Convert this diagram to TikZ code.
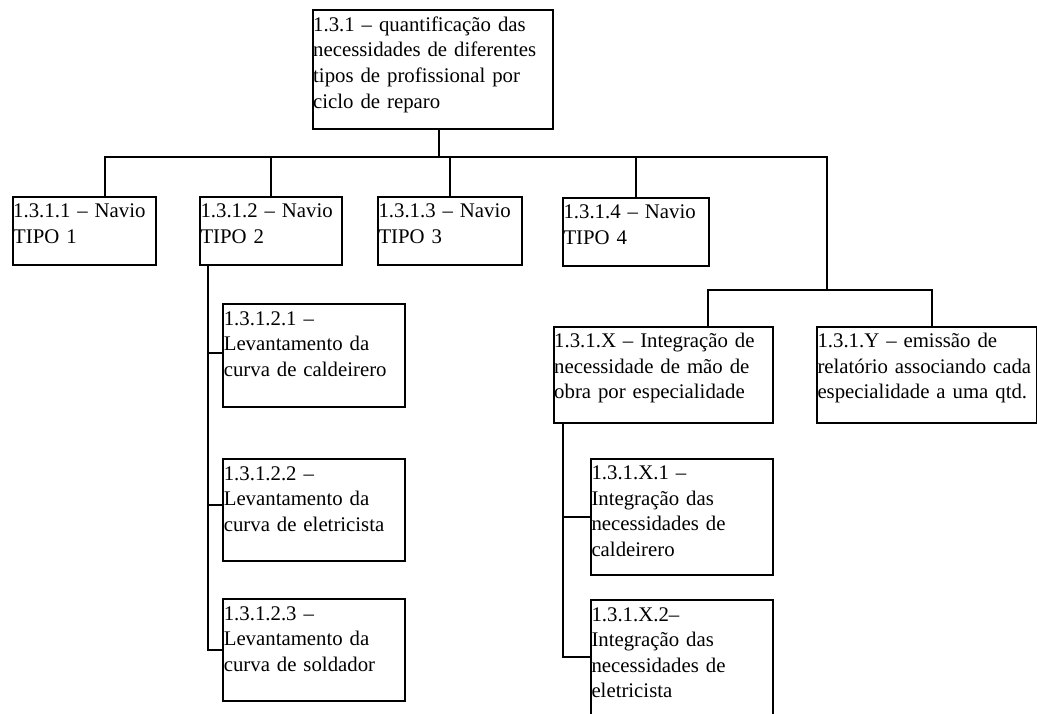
\documentclass[tikz,border=0pt]{standalone}
\usepackage{fontspec}
\setmainfont{Liberation Serif}
\usepackage{tikz}

\tikzset{
  caixa/.style={draw, line width=2pt, anchor=north west, inner xsep=0.5pt, inner ysep=0pt, align=left, text height=21pt, font=\fontsize{20.8}{25.6}\selectfont},
  liga/.style={line width=2pt}
}

\begin{document}
\begin{tikzpicture}[x=1pt,y=-1pt]
\useasboundingbox (0,0) rectangle (1037,713);
\clip (0,0) rectangle (1037,713);
\node[caixa,text width=239.3pt,text depth=97.4pt] (a) at (311.7,9.3) {1.3.1 – quantificação das\\necessidades de diferentes\\tipos de profissional por\\ciclo de reparo};
\node[caixa,text width=142.3pt,text depth=47.3pt] (n1) at (11.7,195.7) {1.3.1.1 – Navio\\TIPO 1};
\node[caixa,text width=141pt,text depth=47.3pt] (n2) at (199,195.7) {1.3.1.2 – Navio\\TIPO 2};
\node[caixa,text width=143pt,text depth=47.3pt] (n3) at (377,195.7) {1.3.1.3 – Navio\\TIPO 3};
\node[caixa,text width=145pt,text depth=47.3pt] (n4) at (562,196.7) {1.3.1.4 – Navio\\TIPO 4};
\node[caixa,text width=218.3pt,text depth=75.3pt] (nX) at (552.7,325.7) {1.3.1.X – Integração de\\necessidade de mão de\\obra por especialidade};
\node[caixa,text width=218.7pt,text depth=75.3pt] (nY) at (816,325.7) {1.3.1.Y – emissão de\\\mbox{relatório associando cada}\\especialidade a uma qtd.};
\node[caixa,text width=180.7pt,text depth=81.7pt] (n21) at (222.3,303.3) {1.3.1.2.1 –\\Levantamento da\\curva de caldeirero};
\node[caixa,text width=180.7pt,text depth=80.7pt] (n22) at (222.3,458.3) {1.3.1.2.2 –\\Levantamento da\\curva de eletricista};
\node[caixa,text width=180.7pt,text depth=80.2pt] (n23) at (222.3,598.3) {1.3.1.2.3 –\\Levantamento da\\curva de soldador};
\node[caixa,text width=181pt,text depth=95.6pt] (nX1) at (590,457.7) {1.3.1.X.1 –\\Integração das\\necessidades de\\caldeirero};
\node[caixa,text width=181pt,text depth=98pt] (nX2) at (590,599) {1.3.1.X.2–\\Integração das\\necessidades de\\eletricista};

\coordinate (barL) at (105,156.7);
\coordinate (barR) at (826.7,156.7);
\coordinate (subM) at (826.7,290);
\coordinate (subL) at (707.7,290);
\coordinate (subR) at (931.7,290);
\coordinate (bus2) at (208,0);
\coordinate (busX) at (563,0);

\draw[liga] ([xshift=6pt]a.south) -- ([xshift=6pt]a.south |- barL);
\draw[liga] (barL |- n1.north) -- (barL) -- (barR) -- (subM);
\foreach \n in {n2,n3,n4}
\draw[liga] (\n.north) -- (\n.north |- barL);
\draw[liga] (subL |- nX.north) -- (subL) -- (subR) -- (subR |- nY.north);
\draw[liga] (bus2 |- n2.south) -- (bus2 |- n23.west) -- (n23.west);
\foreach \n/\d in {n21/3,n22/4.7}
\draw[liga] ([yshift=\d pt]\n.west -| bus2) -- ([yshift=\d pt]\n.west);
\draw[liga] (busX |- nX.south) -- ([yshift=3pt]nX2.west -| busX) -- ([yshift=3pt]nX2.west);
\draw[liga] (nX1.west -| busX) -- (nX1.west);
\end{tikzpicture}
\end{document}
